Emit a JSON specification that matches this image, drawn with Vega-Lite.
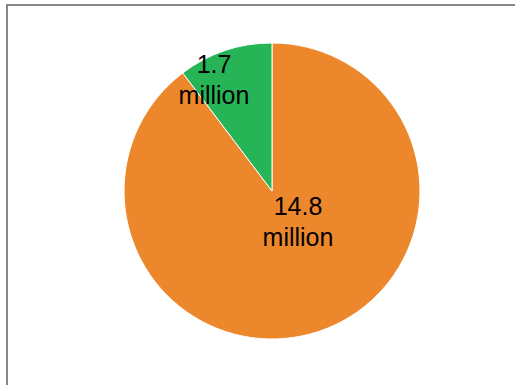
{
  "$schema": "https://vega.github.io/schema/vega-lite/v6.json",
  "width": 512,
  "height": 384,
  "padding": {"left": 7, "top": 5, "right": 0, "bottom": 0},
  "autosize": {"type": "none"},
  "background": "white",
  "view": {"stroke": "#868686", "strokeWidth": 2},
  "data": {"values": [
    {"category": "14.8 million", "value": 14.8},
    {"category": "1.7 million", "value": 1.7}
  ]},
  "encoding": {
    "theta": {"field": "value", "type": "quantitative", "stack": true},
    "order": {"field": "value", "type": "quantitative", "sort": "descending"}
  },
  "layer": [
    {
      "mark": {"type": "arc", "x": 265, "y": 186, "outerRadius": 148, "stroke": "white", "strokeWidth": 1},
      "encoding": {
        "color": {
          "field": "category", "type": "nominal", "legend": null,
          "scale": {"domain": ["14.8 million", "1.7 million"], "range": ["#ED872C", "#27B457"]}
        }
      }
    },
    {
      "mark": {"type": "text", "x": 265, "y": 186, "radius": 0, "dx": -58, "dy": -126, "fontSize": 25, "font": "Liberation Sans", "color": "black", "lineBreak": " ", "lineHeight": 31},
      "encoding": {
        "text": {"condition": {"test": "datum.value < 5", "field": "category"}, "value": ""}
      }
    },
    {
      "mark": {"type": "text", "x": 265, "y": 186, "radius": 0, "dx": 26, "dy": 16, "fontSize": 25, "font": "Liberation Sans", "color": "black", "lineBreak": " ", "lineHeight": 31},
      "encoding": {
        "text": {"condition": {"test": "datum.value > 5", "field": "category"}, "value": ""}
      }
    }
  ]
}
